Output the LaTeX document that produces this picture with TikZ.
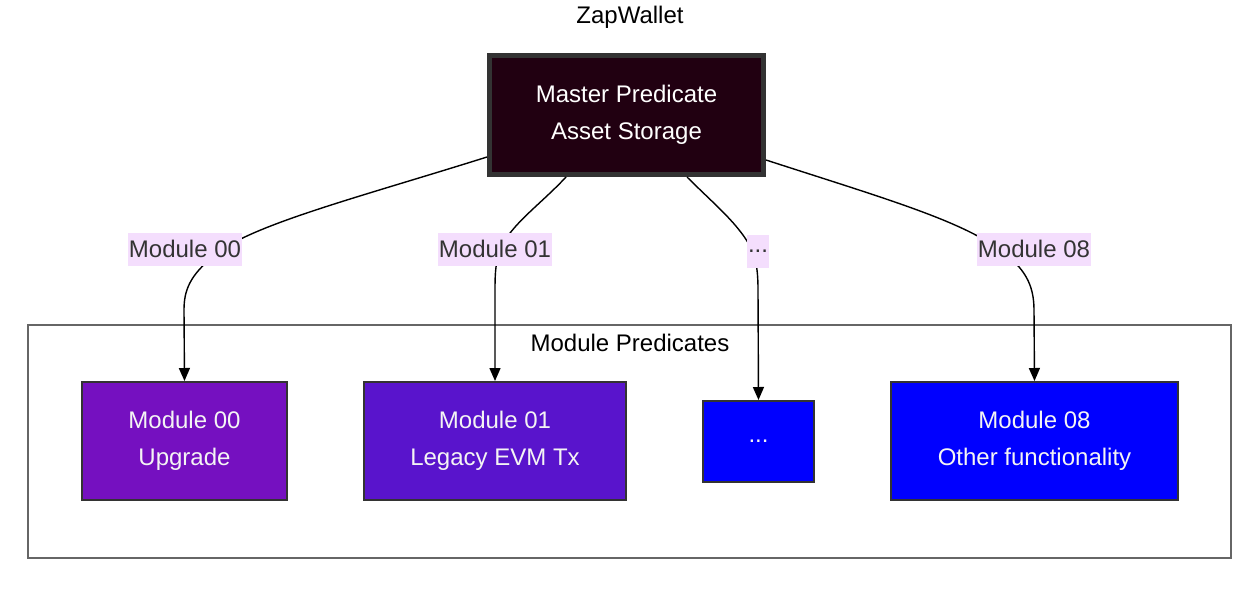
\documentclass[tikz,border=0pt]{standalone}
\usepackage{fontspec}
\setmainfont{Liberation Sans}
\usetikzlibrary{arrows.meta}
\definecolor{masterfill}{HTML}{210011}
\definecolor{boxline}{HTML}{333333}
\definecolor{clusterline}{HTML}{666666}
\definecolor{modzero}{HTML}{7510C0}
\definecolor{modone}{HTML}{5914CC}
\definecolor{modblue}{HTML}{0000FF}
\definecolor{labelbg}{HTML}{F4DEFD}
\definecolor{labeltext}{HTML}{333333}
\definecolor{modtext}{HTML}{F4F4F4}

\begin{document}
\begin{tikzpicture}[x=1pt, y=-1pt]
\tikzset{every node/.style={font=\fontsize{24}{37}\selectfont, align=center, inner sep=0pt},
         modbox/.style={draw=boxline, line width=2pt, text=modtext, minimum height=118pt},
         edgelabel/.style={fill=labelbg, text=labeltext, inner xsep=1pt, minimum height=33pt},
         link/.style={line width=1.4pt, -{Triangle[length=13pt,width=11pt]}}}
\useasboundingbox (0,0) rectangle (1259,611);
\node[draw=clusterline, line width=2.5pt, minimum width=1203pt, minimum height=233pt] (P) at (629.5,441.5) {};
\node (PT) at (630,343) {Module Predicates};
\node (T) at (630,17) {ZapWallet};
\node[draw=boxline, line width=5pt, fill=masterfill, text=white,
      minimum width=274pt, minimum height=119pt] (M) at (626.5,115) {Master Predicate\\Asset Storage};
\node[modbox, fill=modzero, minimum width=205pt] (B0) at (184.5,441) {Module 00\\Upgrade};
\node[modbox, fill=modone, minimum width=262pt] (B1) at (495,441) {Module 01\\Legacy EVM Tx};
\node[modbox, fill=modblue, minimum width=111pt, minimum height=81pt] (B2) at (758.5,441.5) {...};
\node[modbox, fill=modblue, minimum width=287pt] (B3) at (1034.5,441) {Module 08\\Other functionality};
\draw[link] ([yshift=20pt]M.south west) .. controls (360,197) and (250,225) .. (215,255)
  .. controls (190,275) and (184,290) .. (184,310) -- (B0.north);
\draw[link] ([xshift=79pt]M.south west) .. controls (540,205) and (510,225) .. (500,250)
  .. controls (496,262) and (495,270) .. (495,290) -- (B1.north);
\draw[link] ([xshift=-79pt]M.south east) .. controls (715,205) and (740,225) .. (752,250)
  .. controls (757,262) and (758,275) .. (758,290) -- (B2.north);
\draw[link] ([yshift=17pt]M.south east) .. controls (880,197) and (960,220) .. (1000,250)
  .. controls (1025,268) and (1034,285) .. (1034,310) -- (B3.north);
\node[edgelabel] (L0) at (185,249) {Module 00};
\node[edgelabel] (L1) at (495,249) {Module 01};
\node[edgelabel] (L2) at (758,251) {...};
\node[edgelabel] (L3) at (1034,249) {Module 08};
\end{tikzpicture}
\end{document}
